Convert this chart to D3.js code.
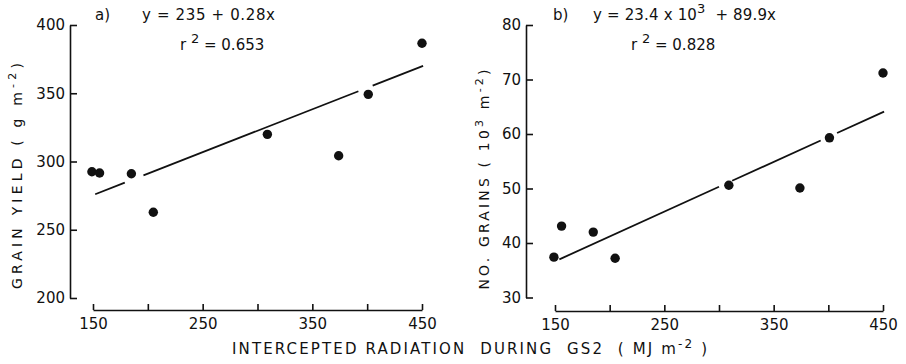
<!DOCTYPE html>
<html>
<head>
<meta charset="utf-8">
<script src="https://cdn.jsdelivr.net/npm/d3@7"></script>
<style>
body { margin: 0; background: #fff; }
svg text { font-family: "DejaVu Sans", sans-serif; fill: #111; white-space: pre; }
</style>
</head>
<body>
<div id="chart"></div>
<script>
// values (same 8 treatments in both)
var radiation   = [149, 156, 185, 205, 309, 374, 401, 450];
var grainYield  = [292.5, 291.6, 291, 262.8, 319.9, 304.2, 349.2, 386.6];
var grainNumber = [37.4, 43.1, 42.0, 37.2, 50.6, 50.1, 59.3, 71.2];

var xTicks      = [150, 200, 250, 300, 350, 400, 450];
var xTickLabels = [150, 250, 350, 450];
var yieldTicks  = [200, 250, 300, 350, 400];
var grainTicks  = [30, 40, 50, 60, 70, 80];

// regression lines as drawn (end points) + where the pen lifts near a dot
var fitYield     = [[152, 276], [451, 370]];
var fitGrains    = [[154, 37], [451, 64.1]];
var breaksYield  = [[179, 196], [392, 405]];
var breaksGrains = [[300, 312], [393, 408]];

var W = 906, H = 364;
var svg = d3.select('#chart').append('svg').attr('width', W).attr('height', H);
svg.append('rect').attr('width', W).attr('height', H).attr('fill', '#fff');

// stretch a label's letter spacing so it spans a given width
function spread(t, target) {
    var w = t.node().getComputedTextLength();
    var n = t.text().length;
    t.style('letter-spacing', ((target - w) / (n - 1)) + 'px');
}

function panel(o) {
    var x = d3.scaleLinear().domain([150, 450]).range(o.xr);
    var y = d3.scaleLinear().domain(o.yd).range(o.yr);
    var g = svg.append('g');

    var ya = g.append('g').attr('transform', 'translate(' + o.ax + ',0)')
        .call(d3.axisLeft(y).tickValues(o.yt).tickSizeInner(-7).tickSizeOuter(0).tickPadding(5));
    var xa = g.append('g').attr('transform', 'translate(0,' + o.ay + ')')
        .call(d3.axisBottom(x).tickValues(xTicks).tickSizeInner(-6).tickSizeOuter(0).tickPadding(8)
            .tickFormat(function (d) { return xTickLabels.indexOf(d) >= 0 ? d : ''; }));
    [ya, xa].forEach(function (a) {
        a.attr('font-size', null).attr('font-family', null);
        a.selectAll('text').style('font-size', '15px');
        a.selectAll('path, line').attr('stroke', '#111').attr('stroke-width', 1.6);
    });

    // fitted line, split where it passes the dots
    var f = o.fit;
    var fy = function (v) { return f[0][1] + (v - f[0][0]) * (f[1][1] - f[0][1]) / (f[1][0] - f[0][0]); };
    var cuts = [f[0][0]];
    o.breaks.forEach(function (b) { cuts.push(b[0], b[1]); });
    cuts.push(f[1][0]);
    var line = d3.line().x(function (d) { return x(d); }).y(function (d) { return y(fy(d)); });
    for (var i = 0; i < cuts.length; i += 2) {
        g.append('path').attr('d', line([cuts[i], cuts[i + 1]]))
            .attr('fill', 'none').attr('stroke', '#111').attr('stroke-width', 1.8);
    }

    g.selectAll('circle.dot').data(radiation).join('circle')
        .attr('class', 'dot')
        .attr('cx', function (d) { return x(d); })
        .attr('cy', function (d, i) { return y(o.yv[i]); })
        .attr('r', 4.7).attr('fill', '#111');

    // panel letter and equation
    g.append('text').attr('x', o.lx).attr('y', 20).style('font-size', '15px').text(o.letter);
    var eq = g.append('text').attr('x', o.ex).attr('y', 20).style('font-size', '15px');
    o.eq(eq);
    var r2 = g.append('text').attr('x', o.rx).attr('y', 50).style('font-size', '15px');
    r2.append('tspan').text('r ');
    r2.append('tspan').attr('dy', -7).style('font-size', '13px').text('2');
    r2.append('tspan').attr('dy', 7).text(' = ' + o.r2);

    // y axis title
    var yt = g.append('text').attr('transform', 'translate(' + o.tx + ',' + o.ty + ') rotate(-90)')
        .attr('text-anchor', 'middle').style('font-size', '14px');
    o.title(yt);
    spread(yt, o.tw);
}

panel({
    xr: [93, 422], yd: [200, 400], yr: [298, 25], ax: 70, ay: 310,
    yt: yieldTicks, yv: grainYield, fit: fitYield, breaks: breaksYield,
    letter: 'a)', lx: 95, ex: 142, rx: 180, r2: '0.653',
    eq: function (t) { t.text('y = 235 + 0.28x'); spread(t, 133); },
    tx: 22, ty: 174, tw: 226,
    title: function (t) {
        t.append('tspan').text('GRAIN YIELD ( g m');
        t.append('tspan').attr('dy', -6).style('font-size', '11px').text('-2');
        t.append('tspan').attr('dy', 6).text(')');
    }
});

panel({
    xr: [555, 883], yd: [30, 80], yr: [297.5, 25], ax: 526, ay: 311,
    yt: grainTicks, yv: grainNumber, fit: fitGrains, breaks: breaksGrains,
    letter: 'b)', lx: 553, ex: 593, rx: 631, r2: '0.828',
    eq: function (t) {
        t.append('tspan').text('y = 23.4 x 10');
        t.append('tspan').attr('dy', -7).style('font-size', '13px').text('3');
        t.append('tspan').attr('dy', 7).text('  + 89.9x');
        spread(t, 183);
    },
    tx: 489, ty: 178, tw: 220,
    title: function (t) {
        t.append('tspan').text('NO. GRAINS ( 10');
        t.append('tspan').attr('dy', -6).style('font-size', '11px').text('3');
        t.append('tspan').attr('dy', 6).text(' m');
        t.append('tspan').attr('dy', -6).style('font-size', '11px').text('-2');
        t.append('tspan').attr('dy', 6).text(')');
    }
});

// shared x axis title
var xt = svg.append('text').attr('x', 232).attr('y', 354).style('font-size', '15px');
xt.append('tspan').text('INTERCEPTED RADIATION  DURING  GS2  ( MJ m');
xt.append('tspan').attr('dy', -6).style('font-size', '12px').text('-2');
xt.append('tspan').attr('dy', 6).text(' )');
spread(xt, 475);
</script>
</body>
</html>
